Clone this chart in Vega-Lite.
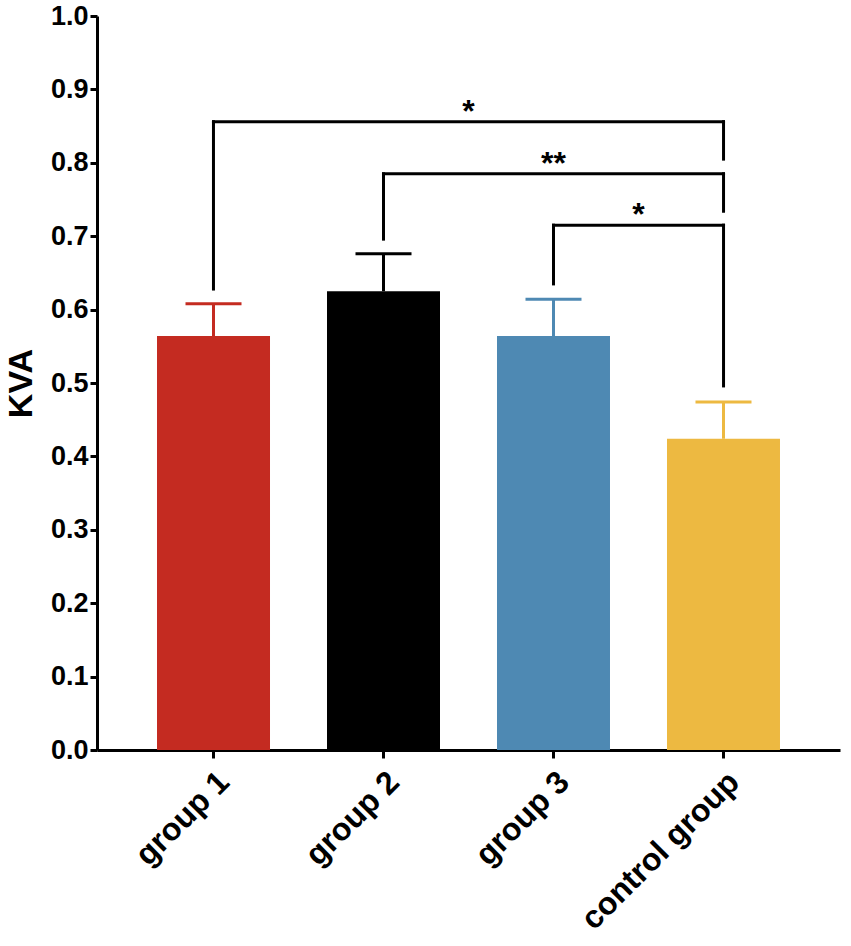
{
  "$schema": "https://vega.github.io/schema/vega-lite/v6.json",
  "width": 743,
  "height": 734,
  "autosize": {"type": "none"},
  "padding": {"left": 97, "top": 16, "right": 11, "bottom": 196},
  "background": "white",
  "datasets": {
    "groups": [
      {"group": "group 1", "mean": 0.564, "upper": 0.608},
      {"group": "group 2", "mean": 0.625, "upper": 0.676},
      {"group": "group 3", "mean": 0.564, "upper": 0.614},
      {"group": "control group", "mean": 0.424, "upper": 0.474}
    ],
    "spans": [
      {"from": 0, "to": 3, "level": 0.856},
      {"from": 1, "to": 3, "level": 0.785},
      {"from": 2, "to": 3, "level": 0.715}
    ],
    "drops": [
      {"pos": 0, "low": 0.628, "high": 0.856},
      {"pos": 3, "low": 0.805, "high": 0.856},
      {"pos": 1, "low": 0.696, "high": 0.785},
      {"pos": 3, "low": 0.734, "high": 0.785},
      {"pos": 2, "low": 0.635, "high": 0.715},
      {"pos": 3, "low": 0.496, "high": 0.715}
    ],
    "stars": [
      {"pos": 1.5, "level": 0.856, "label": "*"},
      {"pos": 2, "level": 0.785, "label": "**"},
      {"pos": 2.5, "level": 0.715, "label": "*"}
    ]
  },
  "layer": [
    {
      "data": {"name": "groups"},
      "encoding": {
        "x": {
          "field": "group",
          "type": "nominal",
          "sort": null,
          "title": null,
          "scale": {"paddingInner": 0.3353, "paddingOuter": 0.353},
          "axis": {
            "labelAngle": -45,
            "labelPadding": 8,
            "labelLimit": 500,
            "tickSize": 8
          }
        },
        "color": {
          "field": "group",
          "type": "nominal",
          "sort": null,
          "legend": null,
          "scale": {
            "domain": ["group 1", "group 2", "group 3", "control group"],
            "range": ["#C42B21", "#000000", "#4E89B3", "#EDB941"]
          }
        }
      },
      "layer": [
        {
          "mark": {"type": "bar"},
          "encoding": {
            "y": {
              "field": "mean",
              "type": "quantitative",
              "title": "KVA",
              "scale": {"domain": [0, 1]},
              "axis": {
                "values": [0, 0.1, 0.2, 0.3, 0.4, 0.5, 0.6, 0.7, 0.8, 0.9, 1.0],
                "format": ".1f",
                "labelPadding": 2,
                "tickSize": 7,
                "titlePadding": 12
              }
            }
          }
        },
        {
          "mark": {"type": "rule", "strokeWidth": 3},
          "encoding": {
            "y": {"field": "mean", "type": "quantitative"},
            "y2": {"field": "upper"}
          }
        },
        {
          "mark": {"type": "tick", "orient": "horizontal", "size": 56, "thickness": 3, "opacity": 1},
          "encoding": {
            "y": {"field": "upper", "type": "quantitative"}
          }
        }
      ]
    },
    {
      "data": {"name": "spans"},
      "mark": {"type": "rule", "strokeWidth": 3, "color": "black", "strokeCap": "square"},
      "encoding": {
        "x": {"field": "from", "type": "quantitative", "scale": {"domain": [-0.685, 3.685], "nice": false, "zero": false}, "axis": null},
        "x2": {"field": "to"},
        "y": {"field": "level", "type": "quantitative"}
      }
    },
    {
      "data": {"name": "drops"},
      "mark": {"type": "rule", "strokeWidth": 3, "color": "black", "strokeCap": "square"},
      "encoding": {
        "x": {"field": "pos", "type": "quantitative", "scale": {"domain": [-0.685, 3.685], "nice": false, "zero": false}, "axis": null},
        "y": {"field": "low", "type": "quantitative"},
        "y2": {"field": "high"}
      }
    },
    {
      "data": {"name": "stars"},
      "mark": {"type": "text", "fontSize": 32, "fontWeight": "bold", "font": "Liberation Sans", "baseline": "alphabetic", "align": "center", "color": "black"},
      "encoding": {
        "x": {"field": "pos", "type": "quantitative", "scale": {"domain": [-0.685, 3.685], "nice": false, "zero": false}, "axis": null},
        "y": {"field": "level", "type": "quantitative"},
        "text": {"field": "label"}
      }
    }
  ],
  "resolve": {"scale": {"x": "independent", "color": "independent"}},
  "config": {
    "view": {"stroke": null},
    "font": "Liberation Sans",
    "axis": {
      "labelFont": "Liberation Sans",
      "labelFontWeight": "bold",
      "labelColor": "black",
      "titleFont": "Liberation Sans",
      "titleFontWeight": "bold",
      "titleColor": "black",
      "domainColor": "black",
      "domainWidth": 3,
      "tickColor": "black",
      "tickWidth": 3,
      "grid": false
    },
    "axisX": {"labelFontSize": 32},
    "axisY": {"labelFontSize": 27, "titleFontSize": 34}
  }
}
